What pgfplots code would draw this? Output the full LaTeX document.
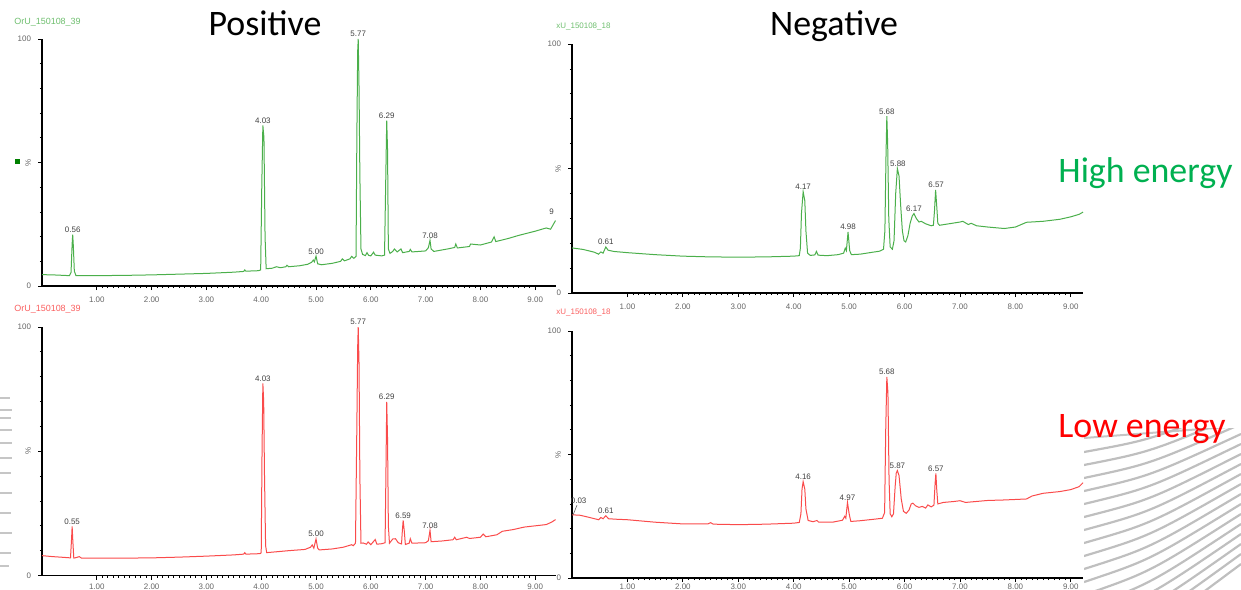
\documentclass[border=0pt]{standalone}
\usepackage{fontspec}
\setmainfont{Carlito}
\newfontfamily\lab{Liberation Sans}
\usepackage{pgfplots}
\pgfplotsset{compat=1.18}

\definecolor{trgreen}{RGB}{75,175,75}
\definecolor{trred}{RGB}{250,75,75}
\definecolor{idgreen}{RGB}{110,190,110}
\definecolor{idred}{RGB}{250,95,95}
\definecolor{hgreen}{RGB}{0,176,80}

\pgfplotsset{
  chrom/.style={
    scale only axis, anchor=south west,
    axis lines=left, axis line style={-, black, line width=0.7bp},
    xmin=0, ymin=0, ymax=100, clip=false,
    xtick={1,...,9}, minor x tick num=9,
    ytick={0,50,100}, yticklabels={0,{\rotatebox{90}{\%}},100},
    minor y tick num=4,
    tick align=outside, major tick length=2bp, minor tick length=1.1bp,
    tick style={black, line width=0.4bp},
    ticklabel style={font=\lab\fontsize{4}{4.5}\selectfont, text=black!60},
    /pgf/number format/assume math mode=true,
    xticklabel style={/pgf/number format/fixed, /pgf/number format/fixed zerofill,
      /pgf/number format/precision=2},
  },
  lower/.style={xticklabel style={yshift=#1}},
  peaks/.style={draw=none, nodes near coords, point meta=explicit symbolic,
    nodes near coords style={font=\lab\fontsize{4}{4.5}\selectfont, text=black!75,
      anchor=south, inner sep=0.8bp}},
}

\begin{document}
\begin{tikzpicture}[x=0.5bp, y=-0.5bp]
\path[use as bounding box] (0,0) rectangle (1241,590);

% titles
\node[anchor=base, font=\fontsize{18}{20}\selectfont] at (265,36) {Positive};
\node[anchor=base, font=\fontsize{18}{20}\selectfont] at (834,36) {Negative};
\node[anchor=base west, inner sep=0, text=hgreen, font=\fontsize{18}{20}\selectfont] at (1058,183) {High energy};

% sample ids
\node[anchor=west, inner sep=0, text=idgreen, font=\lab\fontsize{4.5}{5}\selectfont] at (14,22) {OrU\_150108\_39};
\node[anchor=west, inner sep=0, text=idgreen, font=\lab\fontsize{4}{5}\selectfont] at (556,27) {xU\_150108\_18};
\node[anchor=west, inner sep=0, text=idred, font=\lab\fontsize{4.5}{5}\selectfont] at (14,309) {OrU\_150108\_39};
\node[anchor=west, inner sep=0, text=idred, font=\lab\fontsize{4}{5}\selectfont] at (556,313) {xU\_150108\_18};
\node[fill=green!50!black, minimum size=2.5bp, inner sep=0] at (17,162) {};

% scan artifacts
\begin{scope}
\clip (1084,428) rectangle (1241,590);
\draw[gray!45, line width=1bp] (1084,438) -- (1241,426);
\foreach \k in {0,...,16} {
  \draw[gray!50, line width=1.1bp] (1084,452+13*\k) .. controls (1150,440+12*\k) .. (1241,404+10*\k);
}
\end{scope}
\foreach \yy/\ww in {398/10,410/12,418/11,430/12,443/12,458/12,473/11,493/12,513/11,533/12,553/11,566/9} {
  \draw[gray!45, line width=1.2bp] (0,\yy) -- (\ww,\yy);
}

% ---------- top left: positive, high energy
\begin{axis}[chrom, at={(21bp,-143bp)}, width=256.75bp, height=123.5bp, xmax=9.37]
\addplot[trgreen, line width=0.5bp] table {
0.00 4.6
0.20 4.5
0.40 4.3
0.50 4.2
0.53 5.5
0.55 17
0.56 20.8
0.57 17
0.59 6
0.62 4.2
0.80 4.2
1.00 4.2
1.50 4.3
2.00 4.5
2.50 4.8
3.00 5.1
3.50 5.6
3.68 5.9
3.70 6.5
3.72 6.0
3.95 6.2
3.99 6.5
4.01 40
4.03 65
4.05 60
4.07 20
4.09 7.0
4.20 7.2
4.28 7.8
4.35 7.4
4.45 7.8
4.47 8.4
4.50 7.8
4.70 8.2
4.85 8.8
4.92 9.6
4.95 10.5
4.97 9.8
5.00 12.1
5.03 9.0
5.10 8.6
5.30 9.2
5.45 10.0
5.48 11.0
5.52 10.2
5.62 11.0
5.65 12.0
5.69 11.2
5.73 12.0
5.745 60
5.76 95
5.77 100
5.785 80
5.80 45
5.82 15
5.85 12.8
5.90 12.3
5.93 13.5
5.96 12.4
6.00 12.2
6.05 13.7
6.08 12.5
6.20 12.2
6.25 12.5
6.27 40
6.29 67
6.305 55
6.32 15
6.35 13.2
6.40 14.0
6.43 15.0
6.48 13.8
6.55 15.0
6.58 13.5
6.70 14.0
6.72 14.8
6.75 13.8
7.00 14.2
7.05 15.5
7.08 18.5
7.10 15.0
7.15 14.0
7.40 15.0
7.53 15.6
7.55 17.0
7.58 15.4
7.80 16.0
7.82 17.0
8.00 16.6
8.20 17.8
8.25 19.9
8.28 18.0
8.50 19.2
8.70 20.5
9.00 22.2
9.20 23.5
9.28 23.0
9.37 26.5
};
\addplot[peaks] table[meta=lab] {
x y lab
0.56 20.8 0.56
4.03 65 4.03
5.00 12.1 5.00
5.77 100 5.77
6.29 67 6.29
7.08 18.5 7.08
9.30 28 9
};
\end{axis}

% ---------- top right: negative, high energy
\begin{axis}[chrom, at={(286bp,-146.5bp)}, width=255.5bp, height=124.5bp, xmax=9.22]
\addplot[trgreen, line width=0.5bp] table {
0.00 18.1
0.20 17.5
0.40 16.4
0.48 15.6
0.52 16.5
0.56 16.0
0.61 18.5
0.65 17.2
0.75 16.7
1.00 16.2
1.50 15.4
2.00 14.8
2.50 14.5
3.00 14.4
3.50 14.5
4.00 14.8
4.10 15.0
4.12 18
4.14 32
4.17 40.7
4.20 37
4.22 25
4.25 16
4.30 15.1
4.38 15.3
4.41 16.7
4.44 15.2
4.60 15.0
4.80 15.4
4.90 16.0
4.93 18.0
4.95 17.0
4.98 24.5
5.01 17.0
5.04 15.4
5.20 15.6
5.40 16.3
5.55 16.8
5.62 17.6
5.645 25
5.665 55
5.68 71
5.695 60
5.715 30
5.74 18.5
5.78 17.6
5.81 21
5.84 40
5.87 50
5.90 47
5.93 35
5.96 25
5.99 21
6.02 20.5
6.06 23
6.10 28
6.14 31
6.17 31.9
6.21 30
6.26 28.5
6.30 28.8
6.38 27.8
6.48 27.0
6.52 27.2
6.54 33
6.56 41.4
6.58 35
6.60 28
6.63 27.2
6.80 27.8
7.00 28.5
7.05 28.8
7.15 27.5
7.20 28.0
7.30 27.0
7.50 26.5
7.80 25.9
8.00 26.5
8.20 28.4
8.50 28.8
8.80 29.6
9.00 30.6
9.15 31.6
9.22 32.5
};
\addplot[peaks] table[meta=lab] {
x y lab
0.61 18.5 0.61
4.17 40.7 4.17
4.98 24.5 4.98
5.68 71 5.68
5.88 50 5.88
6.17 31.9 6.17
6.57 41.4 6.57
};
\end{axis}

% ---------- bottom left: positive, low energy
\begin{axis}[chrom, lower=1.5bp, at={(21bp,-287.75bp)}, width=256.75bp, height=124.25bp, xmax=9.37]
\addplot[trred, line width=0.5bp] table {
0.00 8.0
0.20 7.6
0.40 7.3
0.52 7.1
0.54 15
0.55 19.8
0.56 15
0.58 7.0
0.62 7.2
0.68 7.6
0.72 7.0
1.00 7.0
1.50 7.0
2.00 7.1
2.50 7.4
3.00 7.8
3.50 8.3
3.68 8.6
3.70 9.2
3.72 8.6
3.98 8.8
4.00 9.2
4.015 50
4.03 77.3
4.045 70
4.06 40
4.08 12
4.10 9.2
4.30 9.6
4.50 10.0
4.80 10.5
4.90 11.4
4.93 12.3
4.96 11.0
5.00 14.7
5.03 11.0
5.06 10.3
5.30 10.7
5.50 11.4
5.65 12.4
5.68 12.0
5.72 13.0
5.745 60
5.76 92
5.77 100
5.785 85
5.80 40
5.82 13
5.86 13.1
5.92 12.6
5.95 13.5
6.00 12.4
6.08 14.5
6.11 12.6
6.20 12.8
6.26 13.2
6.275 40
6.29 69.9
6.305 55
6.32 20
6.34 13.0
6.40 14.7
6.45 14.8
6.50 13.2
6.56 12.7
6.575 18
6.59 22.2
6.61 18
6.63 12.5
6.70 13.0
6.72 14.8
6.75 13.0
7.00 13.2
7.05 14.0
7.08 18.2
7.10 13.6
7.30 13.9
7.50 14.4
7.53 15.4
7.56 14.4
7.75 15.4
7.80 14.9
8.00 15.4
8.05 16.7
8.10 15.6
8.30 16.4
8.40 17.8
8.60 18.5
8.80 19.5
9.00 20.0
9.20 20.5
9.30 21.5
9.37 22.5
};
\addplot[peaks] table[meta=lab] {
x y lab
0.55 19.8 0.55
4.03 77.3 4.03
5.00 14.7 5.00
5.77 100 5.77
6.29 69.9 6.29
6.59 22.2 6.59
7.08 18.2 7.08
};
\end{axis}

% ---------- bottom right: negative, low energy
\begin{axis}[chrom, lower=2.6bp, at={(286bp,-289bp)}, width=255.5bp, height=123.5bp, xmax=9.22]
\addplot[trred, line width=0.5bp] table {
0.00 25.6
0.15 25.4
0.30 24.6
0.48 23.6
0.52 24.5
0.56 24.0
0.61 25.2
0.66 24.0
0.80 23.8
1.00 23.6
1.50 22.6
2.00 21.9
2.45 21.9
2.50 22.4
2.55 21.8
3.00 21.6
3.50 21.8
4.00 22.2
4.10 22.5
4.13 26
4.15 36
4.17 39.0
4.20 36
4.22 28
4.26 23.3
4.35 22.8
4.42 23.3
4.45 22.6
4.70 22.6
4.88 23.4
4.92 25.0
4.94 24.2
4.97 30.6
5.00 26
5.03 22.9
5.20 23.2
5.45 23.8
5.60 24.2
5.64 26.5
5.66 60
5.68 81.4
5.70 75
5.72 40
5.74 26
5.77 24.8
5.80 26
5.83 37
5.85 42.5
5.87 43.5
5.90 41.5
5.94 32
5.98 27
6.03 26.2
6.08 27.5
6.12 30
6.15 30.3
6.20 29.2
6.26 28.6
6.32 29.0
6.38 28.3
6.42 29.6
6.48 28.8
6.53 29.5
6.55 38
6.565 42.4
6.58 36
6.60 30
6.70 30.6
6.90 31.0
7.00 31.3
7.10 30.6
7.30 31.0
7.50 31.4
7.80 31.6
8.00 31.8
8.20 32.0
8.30 33.2
8.50 34.3
8.80 35.0
9.00 35.8
9.15 37.0
9.22 38.6
};
\addplot[peaks] table[meta=lab] {
x y lab
0.12 29.5 0.03
0.61 25.2 0.61
4.17 39.0 4.16
4.97 30.6 4.97
5.68 81.4 5.68
5.87 43.5 5.87
6.565 42.4 6.57
};
\draw[black!60, line width=0.3bp] (axis cs:0.02,25.6) -- (axis cs:0.09,29.5);
\end{axis}

\node[anchor=base west, inner sep=0, text=red, font=\fontsize{18}{20}\selectfont] at (1058,437) {Low energy};
\end{tikzpicture}
\end{document}
